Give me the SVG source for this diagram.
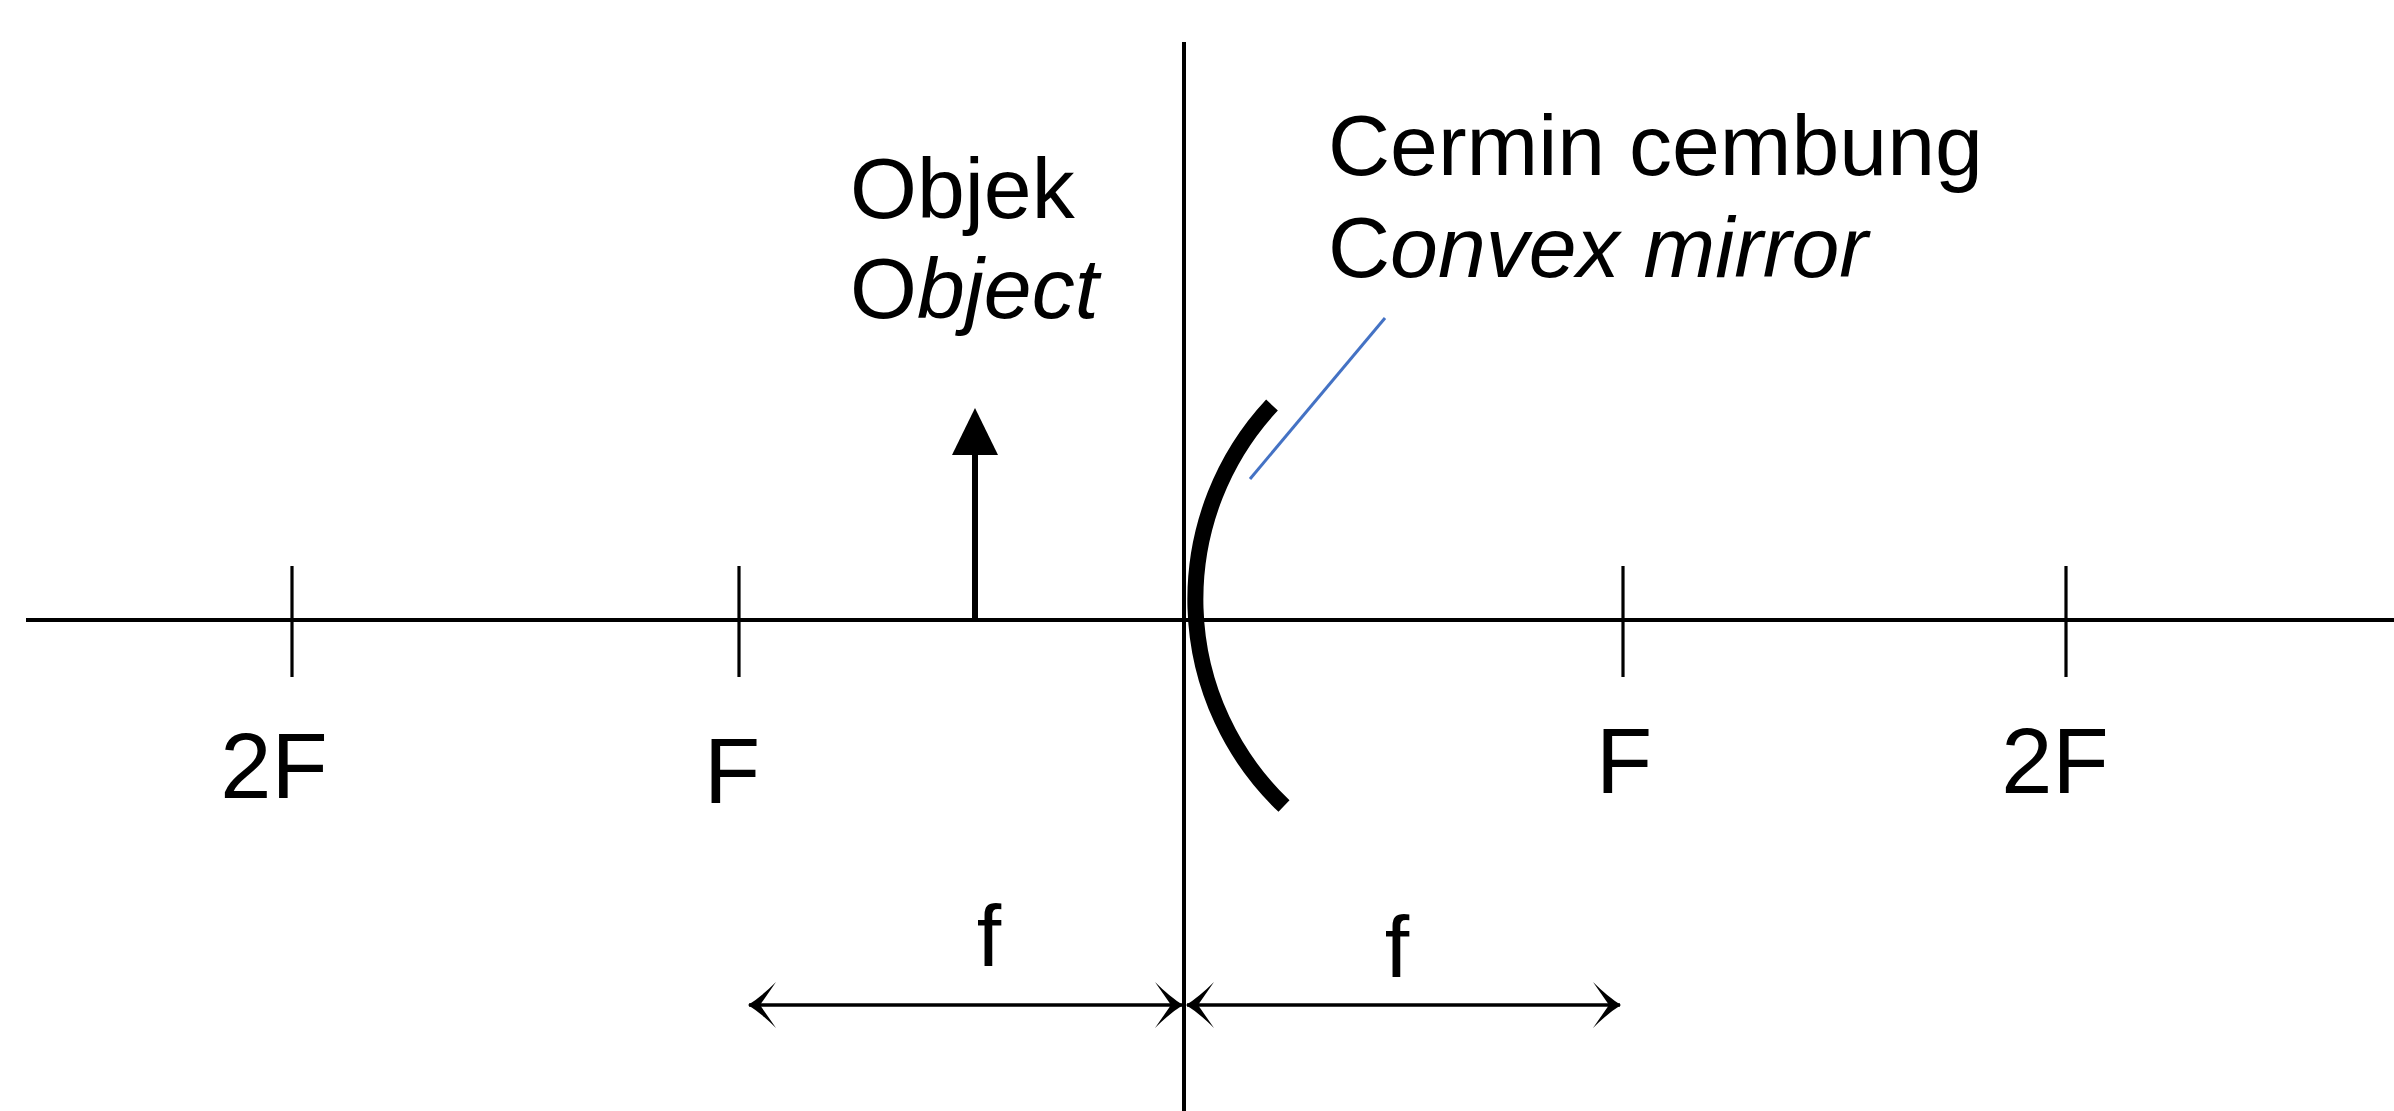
<svg xmlns="http://www.w3.org/2000/svg" width="2394" height="1111" viewBox="0 0 2394 1111">
  <style>
    .ln { stroke: #000; fill: none; }
    .txt { font-family: "Liberation Sans", Arial, sans-serif; fill: #000; }
    .lbl { font-size: 86px; }
    .pt { font-size: 92px; text-anchor: middle; }
    .fl { font-size: 88px; text-anchor: middle; }
    .it { font-style: italic; }
  </style>
  <defs>
    <marker id="stealth" viewBox="-32 -26 34 52" refX="0" refY="0" markerWidth="34" markerHeight="52" markerUnits="userSpaceOnUse" orient="auto-start-reverse">
      <path d="M1,0 Q-12,-8 -27,-23 L-11,0 L-27,23 Q-12,8 1,0 Z" fill="#000"/>
    </marker>
  </defs>
  <rect width="2394" height="1111" fill="#fff"/>

  <g id="axis">
    <line class="ln" x1="26" y1="620" x2="2394" y2="620" stroke-width="4"/>
    <line class="ln" x1="1184" y1="42" x2="1184" y2="1111" stroke-width="4"/>
  </g>

  <g id="ticks">
    <line class="ln" x1="292" y1="566" x2="292" y2="677" stroke-width="3.2"/>
    <line class="ln" x1="739" y1="566" x2="739" y2="677" stroke-width="3.2"/>
    <line class="ln" x1="1623" y1="566" x2="1623" y2="677" stroke-width="3.2"/>
    <line class="ln" x1="2066" y1="566" x2="2066" y2="677" stroke-width="3.2"/>
  </g>

  <g id="point-labels">
    <text class="txt pt" x="274" y="798">2F</text>
    <text class="txt pt" x="732" y="803">F</text>
    <text class="txt pt" x="1624" y="793">F</text>
    <text class="txt pt" x="2055" y="793">2F</text>
  </g>

  <g id="mirror">
    <path class="ln" d="M1272 405 A285 285 0 0 0 1284 806" stroke-width="16"/>
  </g>

  <g id="mirror-label">
    <text class="txt lbl" x="1328" y="175">Cermin cembung</text>
    <text class="txt lbl" x="1328" y="277">C<tspan class="it">onvex mirror</tspan></text>
  </g>

  <g id="object">
    <line class="ln" x1="975" y1="620" x2="975" y2="455" stroke-width="6"/>
    <path d="M975 408 L952 455 L998 455 Z" fill="#000"/>
  </g>

  <g id="object-label">
    <text class="txt lbl" x="850" y="218">Objek</text>
    <text class="txt lbl" x="850" y="318">O<tspan class="it">bject</tspan></text>
  </g>

  <g id="connectors">
    <line x1="1250" y1="479" x2="1385" y2="318" stroke="#4472C4" stroke-width="3"/>
    <line class="ln" x1="749" y1="1005" x2="1182" y2="1005" stroke-width="3.5" marker-start="url(#stealth)" marker-end="url(#stealth)"/>
    <line class="ln" x1="1187" y1="1005" x2="1620" y2="1005" stroke-width="3.5" marker-start="url(#stealth)" marker-end="url(#stealth)"/>
  </g>

  <g id="dimension-labels">
    <text class="txt fl" x="989" y="966">f</text>
    <text class="txt fl" x="1397" y="977">f</text>
  </g>
</svg>
